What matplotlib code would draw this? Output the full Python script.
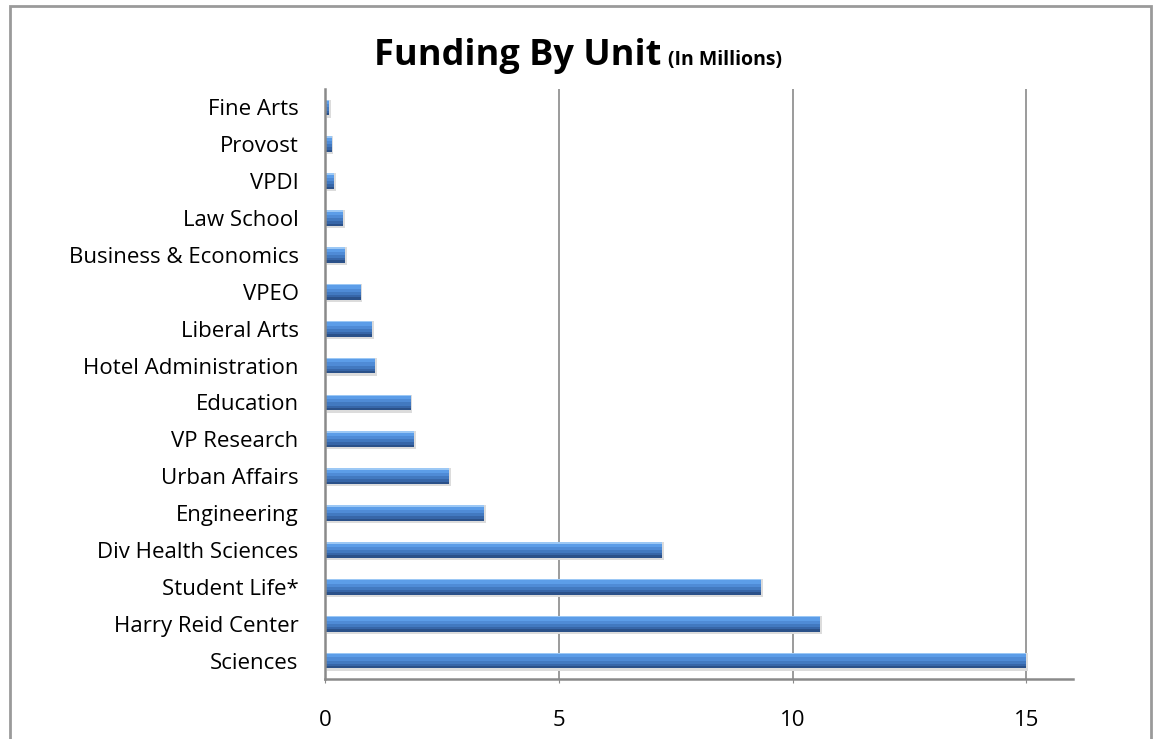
import matplotlib
matplotlib.use("Agg")
import matplotlib.pyplot as plt
from matplotlib.patches import Rectangle

units = ["Sciences", "Harry Reid Center", "Student Life*", "Div Health Sciences",
         "Engineering", "Urban Affairs", "VP Research", "Education",
         "Hotel Administration", "Liberal Arts", "VPEO", "Business & Economics",
         "Law School", "VPDI", "Provost", "Fine Arts"]
funding = [15.0, 10.59, 9.33, 7.21, 3.40, 2.65, 1.90, 1.83,
           1.07, 1.00, 0.76, 0.43, 0.39, 0.19, 0.14, 0.09]
xticks = [0, 5, 10, 15]

plt.rcParams['font.family'] = ['Open Sans', 'DejaVu Sans']

fig = plt.figure(figsize=(11.56, 7.39), dpi=100)
W, H = 1156, 739
ax = fig.add_axes([325 / W, 1 - 679 / H, (1073 - 325) / W, (679 - 89) / H])

y = list(range(len(units)))
bar_h = 0.43
# soft shadow below bars
ax.barh([v - 0.03 for v in y], funding, height=bar_h + 0.06, left=0.04,
        color='#dcdcdc', zorder=2, linewidth=0)
# gradient bands, top to bottom
bands = [(0.10, '#9cc8f5'), (0.20, '#5c9de8'), (0.20, '#4f8bd6'),
         (0.20, '#4279c0'), (0.15, '#3766a8'), (0.15, '#2b5189')]
top = bar_h / 2
for frac, col in bands:
    hh = frac * bar_h
    ax.barh([v + top - hh / 2 for v in y], funding, height=hh, color=col,
            zorder=3, linewidth=0)
    top -= hh

ax.set_xlim(0, 16)
ax.set_ylim(-0.5, len(units) - 0.5)
ax.set_xticks(xticks)
ax.set_xticklabels([str(t) for t in xticks])
ax.set_yticks(y)
ax.set_yticklabels(units)
ax.grid(axis='x', color='#8a8a8a', linewidth=1.2, zorder=0)
ax.set_axisbelow(True)
for s in ['top', 'right']:
    ax.spines[s].set_visible(False)
for s in ['left', 'bottom']:
    ax.spines[s].set_color('#8a8a8a')
    ax.spines[s].set_linewidth(1.8)
    ax.spines[s].set_zorder(4)
ax.tick_params(axis='y', length=0, pad=19, labelsize=16, colors='black')
ax.tick_params(axis='x', length=3, color='#8a8a8a', pad=19, labelsize=16, colors='black')

# title in two parts, centered on figure
fig.canvas.draw()
r = fig.canvas.get_renderer()
t1 = fig.text(0, 1 - 65 / H, "Funding By Unit", fontsize=26, fontweight='bold', ha='left', va='baseline')
t2 = fig.text(0, 1 - 65 / H, "(In Millions)", fontsize=14, fontweight='bold', ha='left', va='baseline')
w1 = t1.get_window_extent(r).width
w2 = t2.get_window_extent(r).width
gap = 6
total = w1 + gap + w2
x0 = 578 - total / 2
t1.set_x(x0 / W)
t2.set_x((x0 + w1 + gap) / W)

# outer frame
fig.patches.append(Rectangle((9.5 / W, -0.1), (1151 - 9.5) / W, 1.1 - 5.5 / H,
                             transform=fig.transFigure, fill=False,
                             edgecolor='#9a9a9a', linewidth=2))

fig.savefig("out.png", dpi=100)
